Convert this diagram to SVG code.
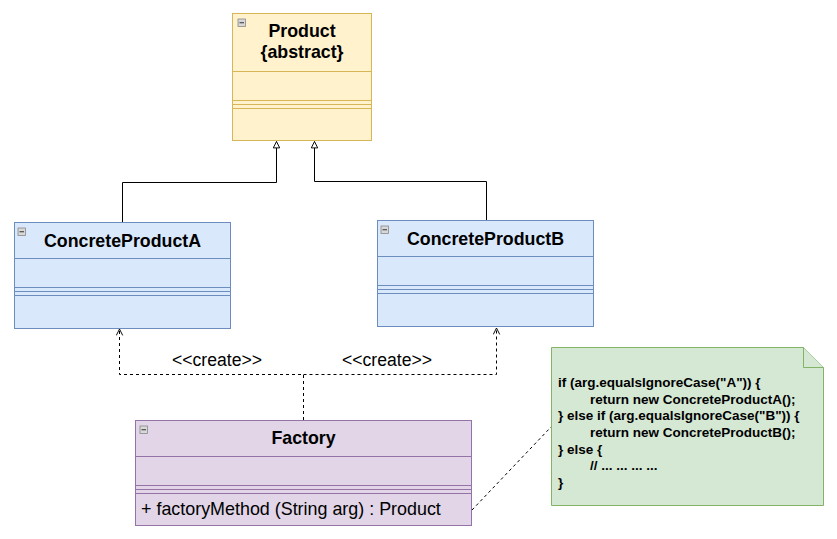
<svg xmlns="http://www.w3.org/2000/svg" width="837" height="539" viewBox="0 0 837 539">
<defs>
<style>
.t{font-family:"Liberation Sans",Arial,sans-serif;fill:#000}
.b{font-weight:bold;font-size:17.8px;text-anchor:middle}
.m{font-size:17.9px}
.c{font-size:17.6px;text-anchor:middle}
.n{font-weight:bold;font-size:13.5px}
.ln{fill:none;stroke:#000;stroke-width:1}
.ds{fill:none;stroke:#000;stroke-width:1;stroke-dasharray:3 3}
.ic{fill:#d8d8d8;stroke:#888;stroke-width:0.8}
.y{fill:#fff2cc;stroke:#d6b656}
.bl{fill:#dae8fc;stroke:#6c8ebf}
.p{fill:#e1d5e7;stroke:#9673a6}
.g{fill:#d5e8d4;stroke:#82b366}
</style>
<marker id="tri" viewBox="0 0 10 10" refX="9" refY="5" markerWidth="8" markerHeight="8" markerUnits="userSpaceOnUse" orient="auto">
<path d="M1,1 L9,5 L1,9 Z" fill="#fff" stroke="#000" stroke-width="1.2"/>
</marker>
<marker id="open" viewBox="0 0 10 10" refX="9" refY="5" markerWidth="8" markerHeight="8" markerUnits="userSpaceOnUse" orient="auto">
<path d="M1,1 L9,5 L1,9" fill="none" stroke="#000" stroke-width="1.2"/>
</marker>
</defs>
<rect width="837" height="539" fill="#fff"/>

<g id="connectors">
<path class="ln" d="M122.5,222 V182.5 H276.5 V141.5" marker-end="url(#tri)"/>
<path class="ln" d="M486.5,220 V181.5 H314.5 V141.5" marker-end="url(#tri)"/>
<path class="ds" d="M303.5,420 V374.5 H119.5 V329" marker-end="url(#open)"/>
<path class="ds" d="M303.5,374.5 H496.5 V328" marker-end="url(#open)"/>
<path class="ds" d="M472,510 L551,427" stroke="#333"/>
<text class="t c" x="217" y="366">&lt;&lt;create&gt;&gt;</text>
<text class="t c" x="387" y="366">&lt;&lt;create&gt;&gt;</text>
</g>

<g id="product">
<rect class="y" x="232.5" y="13.5" width="139" height="127"/>
<line class="y" x1="232.5" y1="71.5" x2="371.5" y2="71.5"/>
<line class="y" x1="232.5" y1="100.5" x2="371.5" y2="100.5"/>
<line class="y" x1="232.5" y1="104.5" x2="371.5" y2="104.5"/>
<line class="y" x1="232.5" y1="108.5" x2="371.5" y2="108.5"/>
<rect class="ic" x="238" y="19" width="7.5" height="7.5"/>
<line x1="239.5" y1="22.75" x2="244" y2="22.75" stroke="#333"/>
<text class="t b" x="302" y="37">Product</text>
<text class="t b" x="302" y="58">{abstract}</text>
</g>

<g id="concreteProductA">
<rect class="bl" x="14.5" y="222.5" width="216" height="106"/>
<line class="bl" x1="14.5" y1="258.5" x2="230.5" y2="258.5"/>
<line class="bl" x1="14.5" y1="287.5" x2="230.5" y2="287.5"/>
<line class="bl" x1="14.5" y1="291.5" x2="230.5" y2="291.5"/>
<line class="bl" x1="14.5" y1="295.5" x2="230.5" y2="295.5"/>
<rect class="ic" x="18" y="228" width="7.5" height="7.5"/>
<line x1="19.5" y1="231.75" x2="24" y2="231.75" stroke="#333"/>
<text class="t b" x="122.5" y="247">ConcreteProductA</text>
</g>

<g id="concreteProductB">
<rect class="bl" x="377.5" y="220.5" width="216" height="106"/>
<line class="bl" x1="377.5" y1="256.5" x2="593.5" y2="256.5"/>
<line class="bl" x1="377.5" y1="285.5" x2="593.5" y2="285.5"/>
<line class="bl" x1="377.5" y1="289.5" x2="593.5" y2="289.5"/>
<line class="bl" x1="377.5" y1="293.5" x2="593.5" y2="293.5"/>
<rect class="ic" x="381" y="226" width="7.5" height="7.5"/>
<line x1="382.5" y1="229.75" x2="387" y2="229.75" stroke="#333"/>
<text class="t b" x="485.5" y="245">ConcreteProductB</text>
</g>

<g id="factory">
<rect class="p" x="135.5" y="420.5" width="336" height="105"/>
<line class="p" x1="135.5" y1="456.5" x2="471.5" y2="456.5"/>
<line class="p" x1="135.5" y1="485.5" x2="471.5" y2="485.5"/>
<line class="p" x1="135.5" y1="489.5" x2="471.5" y2="489.5"/>
<line class="p" x1="135.5" y1="493.5" x2="471.5" y2="493.5"/>
<rect class="ic" x="140" y="426" width="7.5" height="7.5"/>
<line x1="141.5" y1="429.75" x2="146" y2="429.75" stroke="#333"/>
<text class="t b" x="303.5" y="444">Factory</text>
<text class="t m" x="141" y="515">+ factoryMethod (String arg) : Product</text>
</g>

<g id="note">
<path class="g" d="M551.5,347.5 H803.5 L823.5,367.5 V505.5 H551.5 Z"/>
<path class="g" d="M803.5,347.5 V367.5 H823.5"/>
<text class="t n" x="558" y="387">if (arg.equalsIgnoreCase("A")) {</text>
<text class="t n" x="590" y="404">return new ConcreteProductA();</text>
<text class="t n" x="558" y="420">} else if (arg.equalsIgnoreCase("B")) {</text>
<text class="t n" x="590" y="437">return new ConcreteProductB();</text>
<text class="t n" x="558" y="454">} else {</text>
<text class="t n" x="590" y="470">// ... ... ... ...</text>
<text class="t n" x="558" y="487">}</text>
</g>
</svg>
